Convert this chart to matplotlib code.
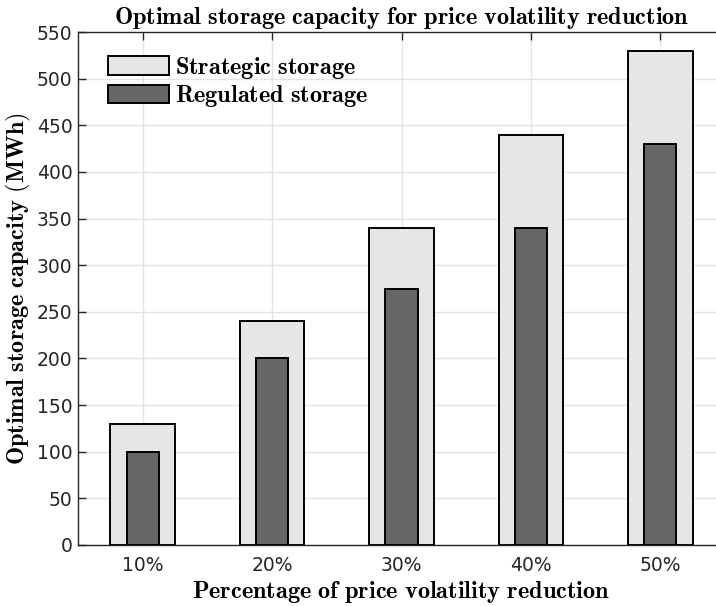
import matplotlib
matplotlib.use("Agg")
import matplotlib.pyplot as plt
import numpy as np

categories = ["10%", "20%", "30%", "40%", "50%"]
strategic = [130, 240, 340, 440, 530]
regulated = [100, 200, 275, 340, 430]
yticks = list(range(0, 551, 50))

plt.rcParams['mathtext.fontset'] = 'cm'
plt.rcParams['font.family'] = 'DejaVu Sans'

fig = plt.figure(figsize=(7.16, 6.06), dpi=100)
W, H = 716, 606
x0, x1 = 78, 725
y0, y1 = 545, 32
ax = fig.add_axes([x0 / W, 1 - y0 / H, (x1 - x0) / W, (y0 - y1) / H])

x = np.arange(1, len(categories) + 1)
ax.bar(x, strategic, width=0.5, color='#e6e6e6', edgecolor='black', linewidth=1.4,
       label=r'$\mathbf{Strategic\ storage}$', zorder=2)
ax.bar(x, regulated, width=0.25, color='#666666', edgecolor='black', linewidth=1.4,
       label=r'$\mathbf{Regulated\ storage}$', zorder=3)

ax.set_xlim(0.5, 5.5)
ax.set_ylim(0, 550)
ax.set_xticks(x)
ax.set_xticklabels(categories)
ax.set_yticks(yticks)
ax.grid(True, color='#e3e3e3', linewidth=1.0, zorder=0)
ax.set_axisbelow(True)
ax.tick_params(axis='both', direction='in', length=6, width=1.0, colors='#262626',
               labelsize=13.5, top=True, right=False)
ax.tick_params(axis='x', pad=8)
ax.tick_params(axis='y', pad=4)
for s in ['left', 'top', 'bottom']:
    ax.spines[s].set_color('#262626')
    ax.spines[s].set_linewidth(1.0)
ax.spines['right'].set_visible(False)

FS = 17.5
ax.set_title(r'$\mathbf{Optimal\ storage\ capacity\ for\ price\ volatility\ reduction}$',
             fontsize=FS, pad=6)
ax.set_xlabel(r'$\mathbf{Percentage\ of\ price\ volatility\ reduction}$', fontsize=FS, labelpad=3)
ax.set_ylabel(r'$\mathbf{Optimal\ storage\ capacity\ (MWh)}$', fontsize=FS, labelpad=3)

leg = ax.legend(loc='upper left', bbox_to_anchor=(30 / (x1 - x0), 1 - 23 / (y0 - y1)),
                frameon=False, fontsize=FS, handlelength=2.5, handleheight=0.8,
                handletextpad=0.25, labelspacing=0.1, borderaxespad=0, borderpad=0)

fig.savefig('out.png', dpi=100)
